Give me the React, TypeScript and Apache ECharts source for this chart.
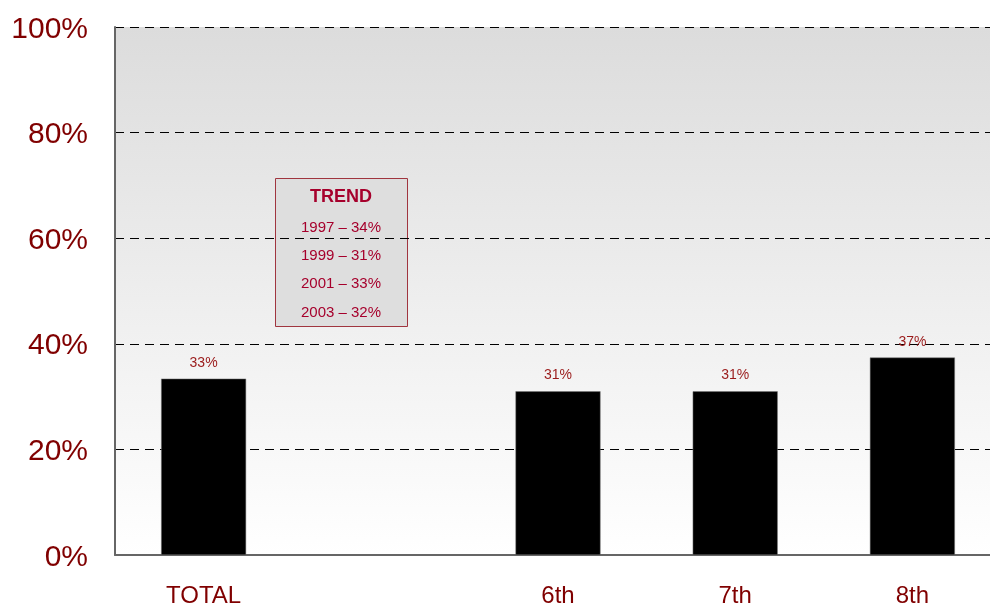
import React, { useEffect, useRef } from "react";
import * as echarts from "echarts";

const categories = ["TOTAL", "", "6th", "7th", "8th"];
const values: (number | null)[] = [33.4, null, 31, 31, 37.4];
const yTicks = [0, 20, 40, 60, 80, 100];
const trendYears = ["1997", "1999", "2001", "2003"];
const trendValues = [34, 31, 33, 32];

const MAROON = "#800000";
const CRIMSON = "#a6002c";
const FONT = "'Liberation Sans', Arial, sans-serif";

export default function App() {
  const ref = useRef<HTMLDivElement>(null);
  useEffect(() => {
    if (!ref.current) return;
    const chart = echarts.init(ref.current, undefined, { renderer: "svg" });
    const trendY = [226, 254, 282, 311];
    const trendTexts = trendYears.map((y, i) => ({
      type: "text",
      x: 341,
      y: trendY[i],
      style: {
        text: `${y} – ${trendValues[i]}%`,
        fill: CRIMSON,
        font: `15px ${FONT}`,
        textAlign: "center",
        textVerticalAlign: "middle",
      },
    }));
    chart.setOption({
      animation: false,
      grid: {
        left: 115,
        top: 27,
        width: 886,
        height: 528,
        show: true,
        borderWidth: 0,
        backgroundColor: new echarts.graphic.LinearGradient(0, 0, 0, 1, [
          { offset: 0, color: "#dcdcdc" },
          { offset: 1, color: "#ffffff" },
        ]),
      },
      xAxis: {
        type: "category",
        data: categories,
        axisLine: { show: true, lineStyle: { color: "#666", width: 2 } },
        axisTick: { show: false },
        axisLabel: {
          color: MAROON,
          fontSize: 24,
          fontFamily: FONT,
          margin: 27,
          interval: 0,
        },
      },
      yAxis: {
        type: "value",
        min: 0,
        max: 100,
        interval: 20,
        axisLine: { show: true, lineStyle: { color: "#666", width: 2 } },
        axisTick: { show: false },
        axisLabel: {
          color: MAROON,
          fontSize: 30,
          fontFamily: FONT,
          margin: 27,
          formatter: (v: number) => (yTicks.includes(v) ? `${v}%` : ""),
        },
        splitLine: {
          show: true,
          lineStyle: { color: "#000", type: [9, 6], width: 1 },
        },
      },
      series: [
        {
          type: "bar",
          data: values,
          barWidth: 85,
          itemStyle: { color: "#000", borderColor: "#777", borderWidth: 0.5 },
          label: {
            show: true,
            position: "top",
            distance: 10,
            color: "#9a1a1a",
            fontSize: 14,
            fontFamily: FONT,
            formatter: (p: any) => `${Math.round(p.value)}%`,
          },
        },
      ],
      graphic: [
        {
          type: "rect",
          left: 275,
          top: 178,
          shape: { width: 132, height: 148 },
          style: { fill: "#dedede", stroke: "#a0353f", lineWidth: 1 },
        },
        {
          type: "text",
          x: 341,
          y: 196,
          style: {
            text: "TREND",
            fill: CRIMSON,
            font: `bold 18px ${FONT}`,
            textAlign: "center",
            textVerticalAlign: "middle",
          },
        },
        ...trendTexts,
      ],
    });
    return () => chart.dispose();
  }, []);
  return (
    <div
      style={{
        position: "fixed",
        left: 0,
        top: 0,
        width: 990,
        height: 606,
        overflow: "hidden",
      }}
    >
      <div ref={ref} style={{ width: 1010, height: 606 }} />
    </div>
  );
}
